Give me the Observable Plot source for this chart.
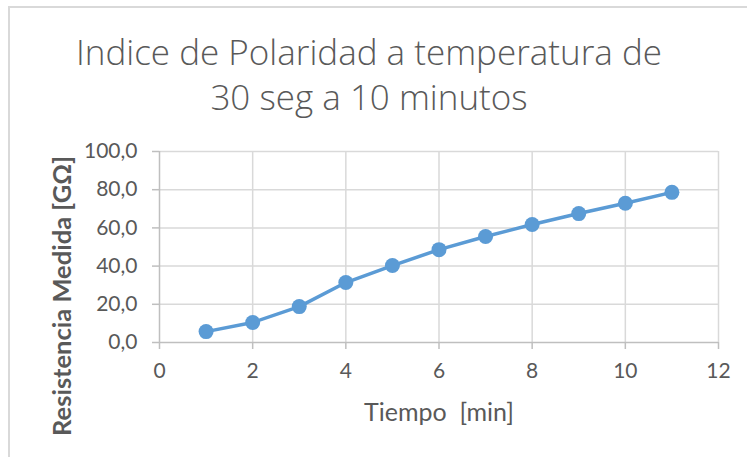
<!DOCTYPE html>
<html>
<head>
<meta charset="utf-8">
<script src="https://cdn.jsdelivr.net/npm/d3@7"></script>
<script src="https://cdn.jsdelivr.net/npm/@observablehq/plot@0.6"></script>
<style>
  html, body { margin: 0; padding: 0; background: #fff; }
  #wrap { position: relative; width: 747px; height: 457px; overflow: hidden; }
  #border { position: absolute; left: 8px; top: 6px; width: 760px; height: 470px; border: 2px solid #d9d9d9; box-sizing: border-box; pointer-events: none; }
  svg { display: block; }
</style>
</head>
<body>
<div id="wrap"><div id="border"></div></div>
<script>
const tiempo = [1, 2, 3, 4, 5, 6, 7, 8, 9, 10, 11];
const resistencia = [5.7, 10.5, 18.8, 31.4, 40.3, 48.6, 55.5, 61.8, 67.5, 72.9, 78.6];
const xTicks = [0, 2, 4, 6, 8, 10, 12];
const yTicks = [0, 20, 40, 60, 80, 100];
const titleLines = ["Indice de Polaridad a temperatura de", "30 seg a 10 minutos"];
const xLabel = "Tiempo\u00a0\u00a0[min]";
const yLabel = "Resistencia Medida [GΩ]";

const data = tiempo.map((t, i) => ({t, r: resistencia[i]}));
const textColor = "#595959";
const font = "Lato, 'Open Sans', sans-serif";

const chart = Plot.plot({
  width: 747,
  height: 457,
  marginLeft: 159,
  marginRight: 29,
  marginTop: 151,
  marginBottom: 115,
  style: {fontFamily: font, fontSize: "21px", color: textColor, background: "transparent"},
  x: {domain: [0, 12], ticks: xTicks, label: null},
  y: {domain: [0, 100], ticks: yTicks, label: null},
  marks: [
    Plot.gridX(xTicks.filter(d => d !== 0), {stroke: "#d9d9d9", strokeOpacity: 1, strokeWidth: 1.5}),
    Plot.gridY(yTicks.filter(d => d !== 0), {stroke: "#d9d9d9", strokeOpacity: 1, strokeWidth: 1.5}),
    Plot.ruleX([0], {stroke: "#bfbfbf", strokeWidth: 1.5}),
    Plot.ruleY([0], {stroke: "#bfbfbf", strokeWidth: 1.5}),
    Plot.axisX({ticks: xTicks, tickSize: 7, tickPadding: 14, stroke: "#bfbfbf", strokeWidth: 1.5, fill: textColor, label: null, fontSize: 21}),
    Plot.axisY({ticks: yTicks, tickSize: 7, tickPadding: 15, stroke: "#bfbfbf", strokeWidth: 1.5, fill: textColor, label: null, fontSize: 21,
      tickFormat: d => d3.format(".1f")(d).replace(".", ",")}),
    Plot.line(data, {x: "t", y: "r", stroke: "#5b9bd5", strokeWidth: 3.5}),
    Plot.dot(data, {x: "t", y: "r", r: 7.5, fill: "#5b9bd5", stroke: "none"}),
    Plot.text([titleLines[0]], {frameAnchor: "top", textAnchor: "middle", text: d => d, dx: -70, dy: -98, fontFamily: "'Open Sans', sans-serif", fontSize: 35, fontWeight: 300, fill: textColor, lineAnchor: "middle"}),
    Plot.text([titleLines[1]], {frameAnchor: "top", textAnchor: "middle", text: d => d, dx: -70, dy: -53, fontFamily: "'Open Sans', sans-serif", fontSize: 35, fontWeight: 300, fill: textColor, lineAnchor: "middle"}),
    Plot.text([xLabel], {frameAnchor: "bottom", textAnchor: "middle", text: d => d, dx: 0, dy: 70, fontSize: 25, fontWeight: 400, fill: textColor, lineAnchor: "middle"}),
    Plot.text([yLabel], {frameAnchor: "left", textAnchor: "middle", text: d => d, dx: -97, dy: 49, rotate: -90, fontSize: 25.5, fontWeight: "bold", fill: textColor, lineAnchor: "middle"})
  ]
});
document.getElementById("wrap").prepend(chart);
</script>
</body>
</html>
